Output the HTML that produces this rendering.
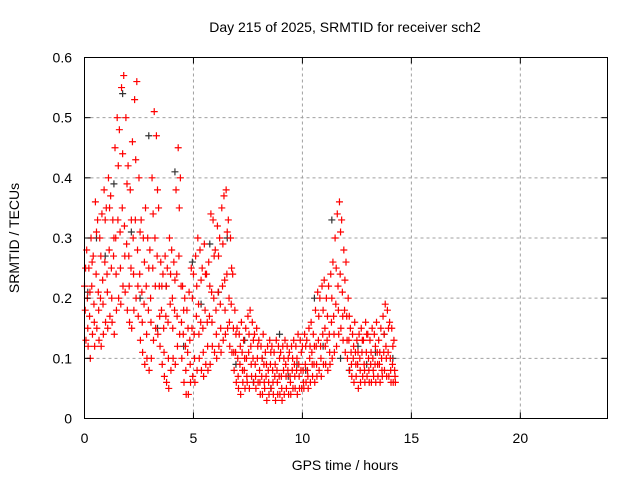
<!DOCTYPE html>
<html><head><meta charset="utf-8"><style>
body{margin:0;background:#fff;}
svg text{font-family:"Liberation Sans",sans-serif;font-size:14px;fill:#000;}
</style></head><body>
<svg id="chart" width="640" height="480" viewBox="0 0 640 480" xmlns="http://www.w3.org/2000/svg">
<rect width="640" height="480" fill="#fff"/>
<g id="grid"></g>
<g id="points"></g>
<rect x="84.5" y="57.5" width="523" height="361" fill="none" stroke="#000" stroke-width="1"/>
<g id="ticks"></g>
<text x="345" y="32" text-anchor="middle">Day 215 of 2025, SRMTID for receiver sch2</text>
<text x="345" y="470" text-anchor="middle">GPS time / hours</text>
<text x="19" y="238" text-anchor="middle" transform="rotate(-90 19 238)">SRMTID / TECUs</text>
</svg>
<script>
const xTicks=[0,5,10,15,20];
const yTicks=[0,0.1,0.2,0.3,0.4,0.5,0.6];
const yTickLabels=["0","0.1","0.2","0.3","0.4","0.5","0.6"];
const tStart=0, tStep=0.1;
const redHi=[0.22,0.28,0.25,0.30,0.27,0.36,0.33,0.30,0.34,0.38,
0.35,0.40,0.37,0.33,0.45,0.50,0.48,0.55,0.57,0.50,
0.42,0.38,0.46,0.53,0.56,0.40,0.33,0.30,0.35,0.30,
0.28,0.40,0.51,0.47,0.35,0.26,0.24,0.27,0.25,0.30,
0.28,0.26,0.38,0.45,0.40,0.22,0.20,0.18,0.21,0.25,
0.24,0.27,0.30,0.28,0.25,0.29,0.24,0.26,0.34,0.33,
0.28,0.32,0.30,0.35,0.37,0.38,0.33,0.30,0.24,0.18,
0.15,0.14,0.16,0.13,0.15,0.17,0.18,0.16,0.14,0.15,
0.13,0.12,0.14,0.11,0.12,0.13,0.12,0.11,0.13,0.12,
0.11,0.12,0.13,0.12,0.11,0.12,0.13,0.12,0.14,0.13,
0.12,0.14,0.13,0.15,0.16,0.14,0.18,0.21,0.20,0.22,
0.23,0.20,0.22,0.24,0.26,0.30,0.34,0.36,0.33,0.28,
0.26,0.20,0.15,0.14,0.16,0.13,0.14,0.15,0.13,0.16,
0.14,0.13,0.15,0.14,0.16,0.13,0.15,0.17,0.19,0.18,
0.16,0.15,0.13];
const redMid=[0.18,0.20,0.17,0.22,0.19,0.24,0.21,0.20,0.23,0.26,
0.24,0.28,0.25,0.27,0.30,0.33,0.31,0.35,0.32,0.29,
0.27,0.25,0.30,0.33,0.28,0.24,0.21,0.19,0.22,0.18,
0.20,0.25,0.30,0.27,0.22,0.18,0.15,0.17,0.16,0.19,
0.20,0.18,0.24,0.27,0.22,0.14,0.12,0.11,0.13,0.15,
0.14,0.17,0.19,0.16,0.15,0.18,0.16,0.17,0.21,0.20,
0.18,0.21,0.19,0.22,0.23,0.24,0.20,0.19,0.15,0.11,
0.10,0.09,0.11,0.08,0.10,0.11,0.12,0.10,0.09,0.10,
0.08,0.07,0.09,0.07,0.08,0.09,0.08,0.07,0.08,0.07,
0.07,0.08,0.09,0.08,0.07,0.08,0.09,0.08,0.09,0.08,
0.08,0.09,0.08,0.10,0.11,0.09,0.12,0.13,0.12,0.14,
0.15,0.13,0.14,0.16,0.17,0.19,0.22,0.24,0.21,0.18,
0.17,0.13,0.11,0.10,0.11,0.09,0.10,0.11,0.09,0.11,
0.10,0.09,0.10,0.09,0.11,0.09,0.10,0.11,0.12,0.11,
0.10,0.09,0.08];
const redLo=[0.13,0.12,0.10,0.14,0.12,0.15,0.13,0.12,0.14,0.16,
0.15,0.17,0.16,0.14,0.18,0.20,0.19,0.22,0.21,0.18,
0.16,0.15,0.18,0.20,0.17,0.13,0.11,0.09,0.10,0.08,
0.10,0.13,0.15,0.14,0.12,0.09,0.07,0.06,0.05,0.08,
0.10,0.09,0.12,0.14,0.10,0.06,0.04,0.04,0.06,0.07,
0.06,0.08,0.10,0.08,0.07,0.09,0.08,0.09,0.12,0.11,
0.10,0.12,0.11,0.13,0.14,0.15,0.12,0.11,0.08,0.06,
0.05,0.04,0.06,0.05,0.06,0.05,0.07,0.06,0.05,0.06,
0.04,0.04,0.05,0.03,0.04,0.05,0.04,0.03,0.04,0.04,
0.03,0.04,0.05,0.04,0.04,0.05,0.05,0.04,0.05,0.05,
0.05,0.06,0.05,0.06,0.07,0.06,0.07,0.08,0.07,0.09,
0.09,0.08,0.09,0.10,0.11,0.12,0.14,0.15,0.13,0.11,
0.10,0.08,0.07,0.06,0.07,0.05,0.06,0.07,0.06,0.07,
0.06,0.06,0.07,0.06,0.07,0.06,0.07,0.08,0.07,0.07,
0.06,0.06,0.06];
const redExtra=[0.25,0.15,0.21,0.26,0.16,0.31,0.18,0.27,0.19,0.33,
0.21,0.35,0.20,0.30,0.24,0.42,0.25,0.44,0.27,0.39,
0.22,0.33,0.24,0.43,0.22,0.31,0.16,0.26,0.14,0.25,
0.16,0.34,0.22,0.38,0.17,0.22,0.11,0.22,0.10,0.24,
0.15,0.23,0.17,0.35,0.16,0.18,0.08,0.15,0.09,0.20,
0.10,0.22,0.14,0.23,0.11,0.24,0.12,0.22,0.16,0.27,
0.14,0.27,0.15,0.29,0.18,0.31,0.16,0.25,0.11,0.14,
0.07,0.12,0.08,0.10,0.07,0.14,0.09,0.13,0.07,0.12,
0.06,0.10,0.06,0.09,0.06,0.11,0.06,0.09,0.06,0.10,
0.05,0.10,0.07,0.10,0.06,0.10,0.07,0.10,0.07,0.11,
0.06,0.12,0.07,0.12,0.09,0.12,0.09,0.17,0.10,0.18,
0.12,0.17,0.11,0.20,0.14,0.25,0.18,0.31,0.17,0.23,
0.13,0.17,0.09,0.12,0.09,0.11,0.08,0.13,0.08,0.14,
0.08,0.11,0.08,0.12,0.09,0.11,0.08,0.14,0.10,0.15,
0.08,0.12,0.07];
const blackStep=0.4;
const blackVals=[0.21,0.30,0.27,0.39,0.54,0.31,0.20,0.47,0.15,0.22,0.41,0.12,0.26,0.19,0.29,0.21,0.30,0.09,0.13,0.06,0.10,0.05,0.14,0.07,0.09,0.08,0.20,0.12,0.33,0.10,0.08,0.12,0.09,0.11,0.14,0.10];

const X0=84.5,X1=607.5,Y0=418.5,Y1=57.5;
const xs=t=>X0+(t/24)*(X1-X0);
const ys=v=>Y0-(v/0.6)*(Y0-Y1);
const NS="http://www.w3.org/2000/svg";
const grid=document.getElementById('grid'),ticks=document.getElementById('ticks'),pts=document.getElementById('points');
function mk(tag,attrs,parent){const e=document.createElementNS(NS,tag);for(const k in attrs)e.setAttribute(k,attrs[k]);parent.appendChild(e);return e;}
xTicks.forEach((t,i)=>{
  const x=xs(t);
  if(i>0){const g=mk('line',{x1:x,x2:x,y1:Y0,y2:Y1,stroke:'#a0a0a0','stroke-dasharray':'3,3'},grid);
    
    }
  const a=mk('line',{x1:x,x2:x,y1:Y0,y2:Y0-6,stroke:'#000'},ticks);
  
  
  const b=mk('line',{x1:x,x2:x,y1:Y1,y2:Y1+6,stroke:'#000'},ticks);
  
  
  const l=mk('text',{x:x,y:443,'text-anchor':'middle'},ticks);l.textContent=String(t);
  
  
});
yTicks.forEach((v,i)=>{
  const y=ys(v);
  if(i>0&&i<yTicks.length-1){const g=mk('line',{x1:X0,x2:X1,y1:y,y2:y,stroke:'#a0a0a0','stroke-dasharray':'3,3'},grid);
    
    }
  const a=mk('line',{x1:X0,x2:X0+6,y1:y,y2:y,stroke:'#000'},ticks);
  
  
  const b=mk('line',{x1:X1,x2:X1-6,y1:y,y2:y,stroke:'#000'},ticks);
  
  
  const l=mk('text',{x:72,y:y+5,'text-anchor':'end'},ticks);l.textContent=yTickLabels[i];
  
  
});
function plus(t,v,color,name){
  const x=xs(t),y=ys(v);
  const p=mk('path',{d:`M${x-3.5},${y}H${x+3.5}M${x},${y-3.5}V${y+3.5}`,stroke:color,'stroke-width':1.2,fill:'none'},pts);
  
  
}
blackVals.forEach((v,i)=>plus(tStart+i*blackStep+0.15,v,'#333','black-point'));
redHi.forEach((v,i)=>plus(tStart+i*tStep,v,'#ff0000','red-point'));
redMid.forEach((v,i)=>plus(tStart+i*tStep+0.033,v,'#ff0000','red-point'));
redLo.forEach((v,i)=>plus(tStart+i*tStep+0.066,v,'#ff0000','red-point'));
redExtra.forEach((v,i)=>plus(tStart+i*tStep+0.05,v,'#ff0000','red-point'));
</script>
</body></html>
